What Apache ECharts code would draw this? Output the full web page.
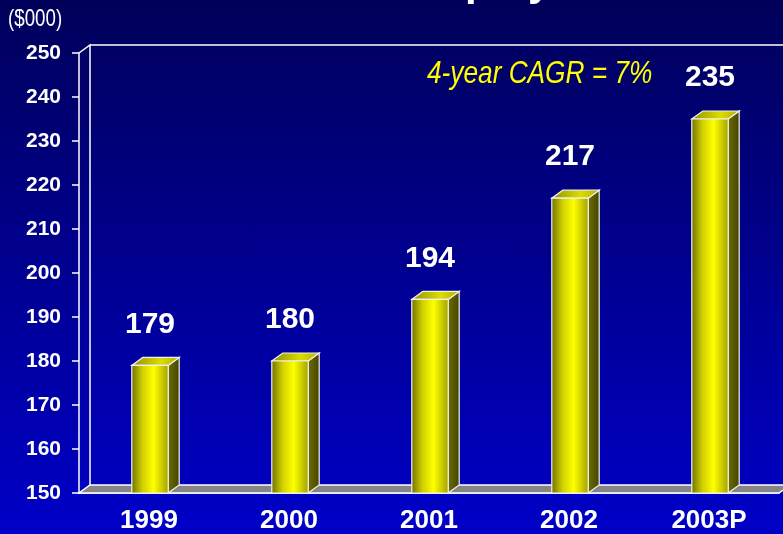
<!DOCTYPE html>
<html>
<head>
<meta charset="utf-8">
<script src="https://cdn.jsdelivr.net/npm/echarts@6/dist/echarts.min.js"></script>
<style>
  html, body { margin: 0; padding: 0; }
  #chart { width: 783px; height: 534px; background: linear-gradient(to bottom, #00005a 0%, #000090 50%, #0000c8 100%); }
</style>
</head>
<body>
<div id="chart"></div>
<script>
const years = ['1999', '2000', '2001', '2002', '2003P']
const values = [179, 180, 194, 217, 235]
const yMin = 150
const yMax = 250
const yStep = 10

// 3D depth offset of the bars / walls
const DX = 11
const DY = -8

const chart = echarts.init(document.getElementById('chart'))

const frontFill = new echarts.graphic.LinearGradient(0, 0, 1, 0, [
  { offset: 0, color: '#6e6e00' },
  { offset: 0.3, color: '#d0d000' },
  { offset: 0.6, color: '#ffff00' },
  { offset: 1, color: '#a0a000' }
])
const sideFill = new echarts.graphic.LinearGradient(0, 0, 1, 0, [
  { offset: 0, color: '#6e6e00' },
  { offset: 1, color: '#444400' }
])
const topFill = new echarts.graphic.LinearGradient(0, 0, 1, 0, [
  { offset: 0, color: '#909000' },
  { offset: 0.6, color: '#dcdc00' },
  { offset: 1, color: '#b0b000' }
])

const renderFrame = (params) => {
  const g = params.coordSys
  const x0 = g.x, x1 = g.x + g.width
  const y0 = g.y, yb = g.y + g.height
  return {
    type: 'group',
    children: [
      {
        type: 'polygon',
        shape: { points: [[x0, yb], [x1, yb], [x1 + DX, yb + DY], [x0 + DX, yb + DY]] },
        style: { fill: '#858585', stroke: '#ffffff', lineWidth: 1.5 }
      },
      {
        type: 'polyline',
        shape: { points: [[x0, y0], [x0 + DX, y0 + DY], [x0 + DX, yb + DY]] },
        style: { fill: null, stroke: '#ffffff', lineWidth: 1.5 }
      },
      {
        type: 'line',
        shape: { x1: x0 + DX, y1: y0 + DY, x2: x1 + DX + 10, y2: y0 + DY },
        style: { stroke: '#ffffff', lineWidth: 1.5 }
      }
    ]
  }
}

const renderBar = (params, api) => {
  const top = api.coord([api.value(0), api.value(1)])
  const base = api.coord([api.value(0), yMin])
  const w = api.size([1, 0])[0] * 0.26
  const xl = top[0] - w / 2 + 1
  const xr = xl + w
  const ty = top[1], by = base[1]
  const edge = { stroke: '#f0f0f0', lineWidth: 1.2 }
  return {
    type: 'group',
    children: [
      {
        type: 'polygon',
        shape: { points: [[xr, ty], [xr + DX, ty + DY], [xr + DX, by + DY], [xr, by]] },
        style: Object.assign({ fill: sideFill }, edge)
      },
      {
        type: 'polygon',
        shape: { points: [[xl, ty], [xr, ty], [xr + DX, ty + DY], [xl + DX, ty + DY]] },
        style: Object.assign({ fill: topFill }, edge)
      },
      {
        type: 'rect',
        shape: { x: xl, y: ty, width: w, height: by - ty },
        style: Object.assign({ fill: frontFill }, edge)
      },
      {
        type: 'text',
        x: top[0] + 1,
        y: ty - 41,
        style: {
          text: String(api.value(1)),
          fill: '#ffffff',
          font: 'bold 30px "Liberation Sans", Arial, sans-serif',
          align: 'center',
          verticalAlign: 'middle'
        }
      }
    ]
  }
}

const option = {
  backgroundColor: 'transparent',
  animation: false,
  grid: { left: 79, right: 4, top: 53, bottom: 41 },
  graphic: [
    {
      type: 'text',
      left: 213,
      top: -38,
      style: {
        text: 'Revenue/Employee',
        fill: '#ffffff',
        font: 'bold 42px "Liberation Sans", Arial, sans-serif'
      }
    },
    {
      type: 'text',
      x: 8,
      y: 7,
      scaleX: 0.78,
      style: {
        text: '($000)',
        fill: '#ffffff',
        font: '24px "Liberation Sans", Arial, sans-serif'
      }
    },
    {
      type: 'text',
      x: 427,
      y: 58,
      scaleX: 0.82,
      style: {
        text: '4-year CAGR = 7%',
        fill: '#ffff00',
        font: 'italic 32px "Liberation Sans", Arial, sans-serif'
      }
    }
  ],
  xAxis: {
    type: 'category',
    data: years,
    axisLine: { lineStyle: { color: '#ffffff', width: 1.5 } },
    axisTick: { length: 6, lineStyle: { color: '#ffffff', width: 1.5 } },
    axisLabel: {
      color: '#ffffff',
      fontSize: 26,
      fontWeight: 'bold',
      fontFamily: '"Liberation Sans", Arial, sans-serif',
      margin: 15
    }
  },
  yAxis: {
    type: 'value',
    min: yMin,
    max: yMax,
    interval: yStep,
    axisLine: { show: true, lineStyle: { color: '#ffffff', width: 1.5 } },
    axisTick: { show: true, length: 7, lineStyle: { color: '#ffffff', width: 1.5 } },
    splitLine: { show: false },
    axisLabel: {
      color: '#ffffff',
      fontSize: 21,
      fontWeight: 'bold',
      fontFamily: '"Liberation Sans", Arial, sans-serif',
      margin: 18
    }
  },
  series: [
    {
      type: 'custom',
      renderItem: renderFrame,
      data: [[0, yMin]],
      clip: false,
      z: 1
    },
    {
      type: 'custom',
      renderItem: renderBar,
      data: values.map((v, i) => [i, v]),
      clip: false,
      z: 3
    }
  ]
}

chart.setOption(option)
</script>
</body>
</html>
